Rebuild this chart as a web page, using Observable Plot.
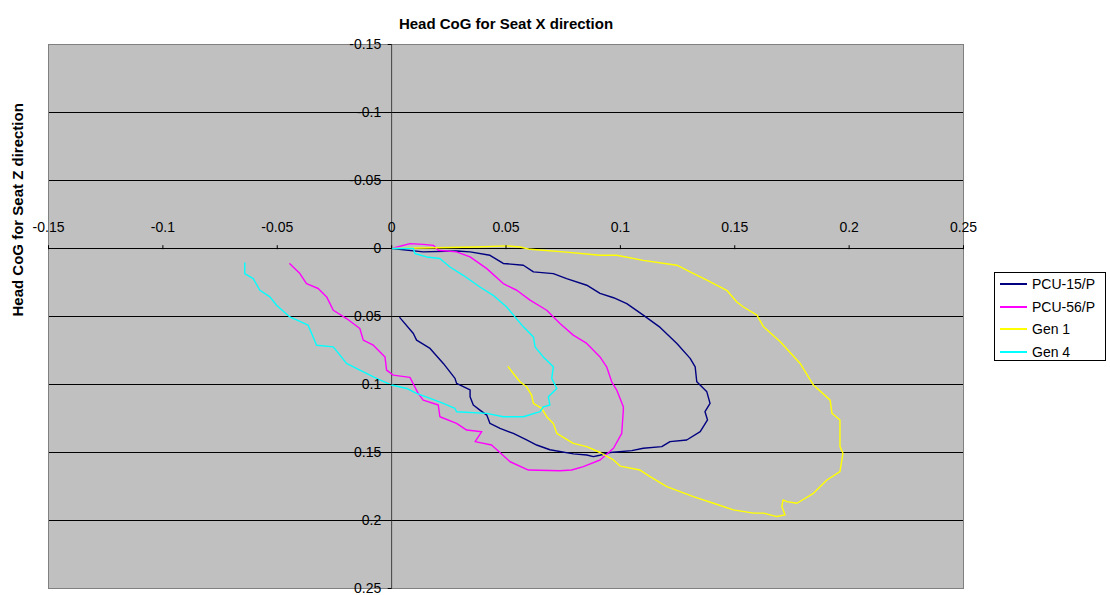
<!DOCTYPE html>
<html>
<head>
<meta charset="utf-8">
<script src="https://cdn.jsdelivr.net/npm/d3@7"></script>
<script src="https://cdn.jsdelivr.net/npm/@observablehq/plot@0.6"></script>
<style>
  html, body { margin: 0; padding: 0; background: #fff; }
  #wrap { position: relative; width: 1110px; height: 595px; font-family: "Liberation Sans", Arial, sans-serif; }
  #legend { position: absolute; left: 994px; top: 272px; width: 112px; height: 89px; border: 1px solid #000; background: #fff; box-sizing: border-box; }
  .item { position: absolute; left: 5px; height: 16px; display: flex; align-items: center; font-size: 14px; color: #000; }
  .item span.sw { display: inline-block; width: 27px; height: 2px; margin-right: 5px; }
</style>
</head>
<body>
<div id="wrap"></div>
<script>
const title = "Head CoG for Seat X direction";
const yTitle = "Head CoG for Seat Z direction";
const seriesNames = ["PCU-15/P", "PCU-56/P", "Gen 1", "Gen 4"];
const seriesColors = ["#000080", "#FF00FF", "#FFFF00", "#00FFFF"];
const xTicks = [-0.15, -0.1, -0.05, 0, 0.05, 0.1, 0.15, 0.2, 0.25];
const xTickLabels = ["-0.15", "-0.1", "-0.05", "0", "0.05", "0.1", "0.15", "0.2", "0.25"];
const yTicks = [-0.15, -0.1, -0.05, 0, 0.05, 0.1, 0.15, 0.2, 0.25];
const yTickLabels = ["-0.15", "-0.1", "-0.05", "0", "0.05", "0.1", "0.15", "0.2", "0.25"];

// PCU-15/P  [x, z]
const pcu15 = [
  [0, 0], [0.0138, 0.0025], [0.0284, 0.0018], [0.0343, 0.0025], [0.043, 0.005], [0.0488, 0.011],
  [0.0576, 0.0123], [0.062, 0.0172], [0.0707, 0.0185], [0.0765, 0.0221], [0.0853, 0.027],
  [0.0911, 0.033], [0.097, 0.0362], [0.1028, 0.0405], [0.110, 0.049], [0.1174, 0.058],
  [0.1247, 0.0698], [0.1305, 0.0808], [0.1327, 0.087], [0.1334, 0.098], [0.1378, 0.1054],
  [0.1392, 0.1139], [0.137, 0.12], [0.1381, 0.1261], [0.1349, 0.1347], [0.129, 0.1408],
  [0.1217, 0.142], [0.1181, 0.1457], [0.110, 0.1469], [0.105, 0.1486], [0.0955, 0.150],
  [0.091, 0.152], [0.0882, 0.153], [0.0853, 0.1518], [0.0795, 0.151], [0.0692, 0.148],
  [0.0634, 0.1445], [0.059, 0.1408], [0.0532, 0.136], [0.0474, 0.1322], [0.043, 0.1286],
  [0.0416, 0.1225], [0.0386, 0.1188], [0.0357, 0.1151], [0.0343, 0.109], [0.0343, 0.104],
  [0.0284, 0.0992], [0.0277, 0.0955], [0.0226, 0.0845], [0.0168, 0.0735], [0.0109, 0.0674],
  [0.0095, 0.0625], [0.0036, 0.0508]
];

// PCU-56/P  [x, z]
const pcu56 = [
  [0, 0], [0.008, -0.0036], [0.0138, -0.003], [0.0182, -0.0023], [0.0204, 0.0013],
  [0.0284, 0.0025], [0.0343, 0.0062], [0.0416, 0.0148], [0.0488, 0.0258], [0.0547, 0.0307],
  [0.0605, 0.038], [0.0678, 0.0454], [0.0736, 0.0551], [0.0794, 0.0637], [0.0853, 0.0698],
  [0.0911, 0.0797], [0.094, 0.087], [0.0962, 0.098], [0.0984, 0.1041], [0.1013, 0.1164],
  [0.1013, 0.1188], [0.1006, 0.1359], [0.097, 0.1469], [0.0911, 0.1555], [0.0838, 0.1604],
  [0.0787, 0.1629], [0.0736, 0.1634], [0.0598, 0.1629], [0.0518, 0.1568], [0.0437, 0.1445],
  [0.0365, 0.142], [0.0394, 0.1347], [0.0328, 0.1335], [0.0284, 0.1286], [0.0211, 0.1237],
  [0.0204, 0.1151], [0.0138, 0.1115], [0.0116, 0.1065], [0.008, 0.0948], [0.0007, 0.0931],
  [-0.0022, 0.0894], [-0.0029, 0.0797], [-0.008, 0.0711], [-0.0124, 0.0674], [-0.0139, 0.0588],
  [-0.0197, 0.0515], [-0.0255, 0.0454], [-0.0284, 0.0356], [-0.0321, 0.0294], [-0.0372, 0.0258],
  [-0.0401, 0.0184], [-0.0445, 0.0112]
];

// Gen 1  [x, z]
const gen1 = [
  [0, 0], [0.0372, -0.0011], [0.0503, -0.0019], [0.0561, -0.0011], [0.0605, 0.0006],
  [0.0751, 0.0025], [0.0911, 0.005], [0.0984, 0.005], [0.110, 0.0087], [0.1247, 0.0123],
  [0.1305, 0.0172], [0.1378, 0.0233], [0.1465, 0.0307], [0.1509, 0.0393], [0.1538, 0.043],
  [0.1597, 0.049], [0.1626, 0.0576], [0.1699, 0.0686], [0.1786, 0.0845], [0.1844, 0.1004],
  [0.1917, 0.1115], [0.1925, 0.1212], [0.196, 0.1261], [0.196, 0.1457], [0.1973, 0.1506],
  [0.196, 0.1641], [0.1903, 0.1702], [0.1844, 0.18], [0.1772, 0.1873], [0.1728, 0.1861],
  [0.1711, 0.1849], [0.1706, 0.1898], [0.172, 0.1959], [0.1684, 0.1971], [0.1626, 0.1946],
  [0.1582, 0.1946], [0.1494, 0.1922], [0.1407, 0.1873], [0.1319, 0.1824], [0.1203, 0.1751],
  [0.113, 0.1678], [0.1086, 0.1629], [0.0999, 0.16], [0.097, 0.1555], [0.0911, 0.150],
  [0.0853, 0.1457], [0.0794, 0.1433], [0.0722, 0.1359], [0.0707, 0.1286], [0.0678, 0.1237],
  [0.0656, 0.1176], [0.062, 0.1139], [0.0612, 0.1078], [0.059, 0.1017], [0.0561, 0.098],
  [0.0532, 0.0919], [0.051, 0.087]
];

// Gen 4  [x, z]
const gen4 = [
  [0, 0], [0.0095, 0], [0.0102, 0.0037], [0.0153, 0.0062], [0.0211, 0.0074], [0.0255, 0.0136],
  [0.0313, 0.0197], [0.0386, 0.0283], [0.0444, 0.0344], [0.0503, 0.043], [0.0539, 0.0503],
  [0.0576, 0.0576], [0.062, 0.065], [0.0627, 0.0723], [0.0663, 0.0797], [0.0707, 0.087],
  [0.07, 0.0955], [0.0722, 0.1029], [0.0685, 0.109], [0.0692, 0.1151], [0.0663, 0.1164],
  [0.0649, 0.12], [0.0576, 0.1237], [0.0488, 0.1237], [0.0416, 0.1212], [0.0284, 0.12],
  [0.0277, 0.1176], [0.0226, 0.1139], [0.0168, 0.1102], [0.0109, 0.1065], [0.0066, 0.1029],
  [0, 0.1004], [-0.0066, 0.0955], [-0.0139, 0.0894], [-0.0197, 0.0845], [-0.0255, 0.0723],
  [-0.0328, 0.0711], [-0.0343, 0.065], [-0.0365, 0.0564], [-0.0445, 0.0503], [-0.0503, 0.0417],
  [-0.0532, 0.0356], [-0.0576, 0.0307], [-0.0605, 0.0221], [-0.0642, 0.0184], [-0.0642, 0.0106]
];

const seriesData = [pcu15, pcu56, gen1, gen4];
const rows = [];
seriesData.forEach((pts, i) => pts.forEach(([x, z], k) => rows.push({series: seriesNames[i], x, z, k})));

const font = '"Liberation Sans", Arial, sans-serif';
const xLab = new Map(xTicks.map((t, i) => [t, xTickLabels[i]]));
const yLab = new Map(yTicks.map((t, i) => [t, yTickLabels[i]]));

const chart = Plot.plot({
  width: 1110,
  height: 595,
  marginLeft: 48,
  marginRight: 147,
  marginTop: 44,
  marginBottom: 7,
  style: {fontFamily: font, fontSize: "14px", color: "#000", background: "#fff", overflow: "visible"},
  x: {domain: [-0.15, 0.25], label: null},
  y: {domain: [-0.15, 0.25], reverse: true, label: null},
  color: {domain: seriesNames, range: seriesColors},
  marks: [
    Plot.frame({fill: "#C0C0C0", stroke: null}),
    Plot.ruleY(yTicks.filter(t => t > -0.15 && t < 0.25), {stroke: "#000", strokeWidth: 1}),
    Plot.ruleX([0], {stroke: "#404040", strokeWidth: 1}),
    Plot.line(rows, {x: "x", y: "z", z: "series", stroke: "series", strokeWidth: 1.4, curve: "linear"}),
    Plot.frame({stroke: "#808080", strokeWidth: 1}),
    Plot.axisX({ticks: xTicks, anchor: "top", dy: 204.2, tickSize: 4, tickPadding: 13, label: null,
      tickFormat: d => xLab.get(d), fontSize: 14, stroke: "#000"}),
    Plot.axisY({ticks: yTicks, anchor: "left", dx: 343.7, tickSize: 4, tickPadding: 7, label: null,
      tickFormat: d => yLab.get(d), fontSize: 14, stroke: "#000"}),
    Plot.text([title], {frameAnchor: "top", dy: -26, fontWeight: "bold", fontSize: 15, fill: "#000"}),
    Plot.text([yTitle], {frameAnchor: "left", dx: -30, rotate: -90, fontWeight: "bold", fontSize: 15, fill: "#000"})
  ]
});

const wrap = document.getElementById("wrap");
wrap.appendChild(chart);

const legend = document.createElement("div");
legend.id = "legend";
seriesNames.forEach((name, i) => {
  const it = document.createElement("div");
  it.className = "item";
  it.style.top = (3 + i * 22.7) + "px";
  const sw = document.createElement("span");
  sw.className = "sw";
  sw.style.background = seriesColors[i];
  it.appendChild(sw);
  it.appendChild(document.createTextNode(name));
  legend.appendChild(it);
});
wrap.appendChild(legend);
</script>
</body>
</html>
